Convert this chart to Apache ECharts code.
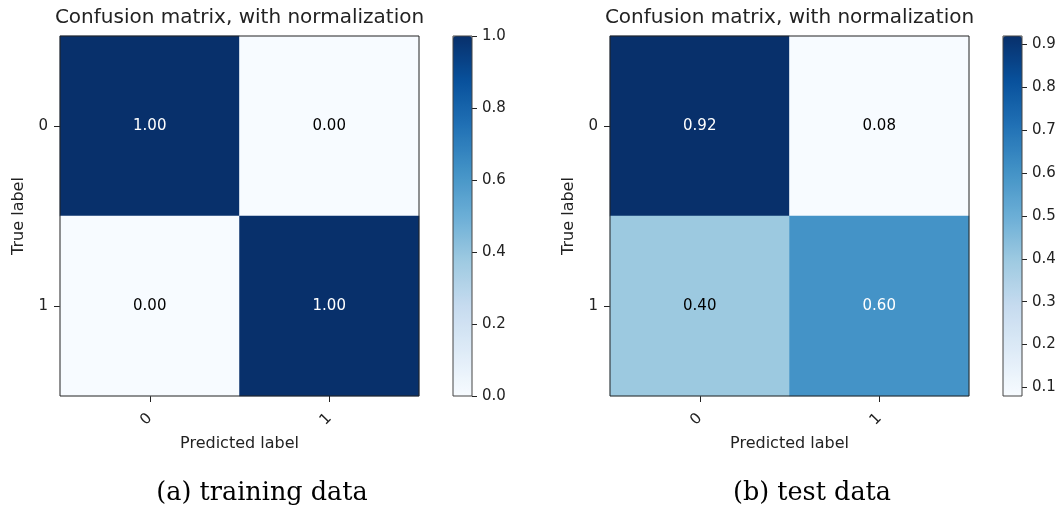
<!DOCTYPE html>
<html>
<head>
<meta charset="utf-8">
<script src="https://cdn.jsdelivr.net/npm/echarts@6/dist/echarts.min.js"></script>
<style>
  html, body { margin: 0; padding: 0; background: #ffffff; }
  #chart { width: 1063px; height: 511px; }
</style>
</head>
<body>
<div id="chart"></div>
<script>
// Class names used on both axes of each confusion matrix
const classLabels = ['0', '1'];

// Normalized confusion matrices: rows = true label, columns = predicted label
const trainMatrix = [
  [1.00, 0.00],
  [0.00, 1.00]
];
const testMatrix = [
  [0.92, 0.08],
  [0.40, 0.60]
];

// Colorbar tick values
const trainTicks = [0.0, 0.2, 0.4, 0.6, 0.8, 1.0];
const testTicks = [0.1, 0.2, 0.3, 0.4, 0.5, 0.6, 0.7, 0.8, 0.9];

// Text
const panelTitles = ['Confusion matrix, with normalization', 'Confusion matrix, with normalization'];
const captions = ['(a) training data', '(b) test data'];
const xName = 'Predicted label';
const yName = 'True label';

// Sequential "Blues" palette
const blues = ['#f7fbff', '#deebf7', '#c6dbef', '#9ecae1', '#6baed6', '#4292c6', '#2171b5', '#08519c', '#08306b'];

const SANS = 'DejaVu Sans';
const SERIF = 'DejaVu Serif';
const INK = '#222222';
const TICK_LEN = 5;

const panels = [
  { matrix: trainMatrix, ticks: trainTicks, title: panelTitles[0], caption: captions[0],
    heat: { left: 60, top: 36, width: 359, height: 360 },
    bar: { left: 453, top: 36, width: 19, height: 360 },
    captionX: 262 },
  { matrix: testMatrix, ticks: testTicks, title: panelTitles[1], caption: captions[1],
    heat: { left: 610, top: 36, width: 359, height: 360 },
    bar: { left: 1003, top: 36, width: 19, height: 360 },
    captionX: 812 }
];

const option = {
  animation: false,
  backgroundColor: '#ffffff',
  title: [],
  grid: [],
  xAxis: [],
  yAxis: [],
  visualMap: [],
  series: []
};

panels.forEach(function (p) {
  const flat = p.matrix.reduce(function (a, r) { return a.concat(r); }, []);
  const vmin = Math.min.apply(null, flat);
  const vmax = Math.max.apply(null, flat);
  const thresh = vmax / 2;

  // heatmap grid (its border is the frame around the matrix)
  const gHeat = option.grid.length;
  option.grid.push(Object.assign({
    show: true, borderColor: INK, borderWidth: 1, backgroundColor: 'transparent', z: 10
  }, p.heat));

  // colorbar outline
  const gBar = option.grid.length;
  option.grid.push(Object.assign({
    show: true, borderColor: '#444', borderWidth: 1, backgroundColor: 'transparent', z: 10
  }, p.bar));

  // narrow strip right of the colorbar: its split lines are the ticks
  const gTick = option.grid.length;
  option.grid.push({
    left: p.bar.left + p.bar.width, top: p.bar.top, width: TICK_LEN, height: p.bar.height
  });

  const xHeat = option.xAxis.length;
  option.xAxis.push({
    type: 'category', gridIndex: gHeat, data: classLabels, position: 'bottom',
    axisLine: { show: false },
    axisTick: { show: true, alignWithLabel: true, length: 6, lineStyle: { color: INK, width: 1 } },
    axisLabel: { rotate: 45, margin: 20, fontFamily: SANS, fontSize: 15, color: INK },
    splitLine: { show: false },
    name: xName, nameLocation: 'middle', nameGap: 40,
    nameTextStyle: { fontFamily: SANS, fontSize: 16, color: INK }
  });
  const yHeat = option.yAxis.length;
  option.yAxis.push({
    type: 'category', gridIndex: gHeat, data: classLabels, inverse: true,
    axisLine: { show: false },
    axisTick: { show: true, alignWithLabel: true, length: 6, lineStyle: { color: INK, width: 1 } },
    axisLabel: { margin: 12, fontFamily: SANS, fontSize: 15, color: INK },
    splitLine: { show: false },
    name: yName, nameLocation: 'middle', nameGap: 33, nameRotate: 90,
    nameTextStyle: { fontFamily: SANS, fontSize: 16, color: INK }
  });

  // colorbar outline axes (hidden)
  option.xAxis.push({ type: 'value', gridIndex: gBar, show: false, min: 0, max: 1 });
  option.yAxis.push({ type: 'value', gridIndex: gBar, show: false, min: vmin, max: vmax });

  // colorbar tick axis
  option.xAxis.push({ type: 'value', gridIndex: gTick, show: false, min: 0, max: 1 });
  option.yAxis.push({
    type: 'value', gridIndex: gTick, position: 'right', min: vmin, max: vmax,
    axisLine: { show: false },
    axisTick: { show: false, customValues: p.ticks },
    splitLine: { show: true, lineStyle: { color: INK, width: 1 } },
    axisLabel: { margin: 5, fontFamily: SANS, fontSize: 15, color: INK, customValues: p.ticks,
      formatter: function (v) { return v.toFixed(1); } }
  });

  const data = [];
  p.matrix.forEach(function (row, i) {
    row.forEach(function (v, j) {
      data.push({
        value: [j, i, v],
        label: { color: v > thresh ? '#ffffff' : '#000000' }
      });
    });
  });

  const sIdx = option.series.length;
  option.series.push({
    type: 'heatmap', xAxisIndex: xHeat, yAxisIndex: yHeat, data: data,
    itemStyle: { borderWidth: 0 },
    label: {
      show: true, fontFamily: SANS, fontSize: 15,
      formatter: function (prm) { return prm.value[2].toFixed(2); }
    },
    emphasis: { disabled: true }
  });

  option.visualMap.push({
    type: 'continuous', seriesIndex: sIdx, dimension: 2,
    min: vmin, max: vmax, calculable: false, realtime: false,
    orient: 'vertical', left: p.bar.left, top: p.bar.top,
    itemWidth: p.bar.width, itemHeight: p.bar.height,
    padding: 0, text: null, hoverLink: false,
    inRange: { color: blues }
  });

  option.title.push({
    text: p.title, left: p.heat.left + p.heat.width / 2, top: 8, padding: 0,
    textAlign: 'center',
    textStyle: { fontFamily: SANS, fontSize: 20, fontWeight: 'normal', color: INK }
  });
  option.title.push({
    text: p.caption, left: p.captionX, top: 480, padding: 0,
    textAlign: 'center',
    textStyle: { fontFamily: SERIF, fontSize: 25.5, fontWeight: 'normal', color: '#000000' }
  });
});

const chart = echarts.init(document.getElementById('chart'), null, { renderer: 'canvas' });
chart.setOption(option);
</script>
</body>
</html>
